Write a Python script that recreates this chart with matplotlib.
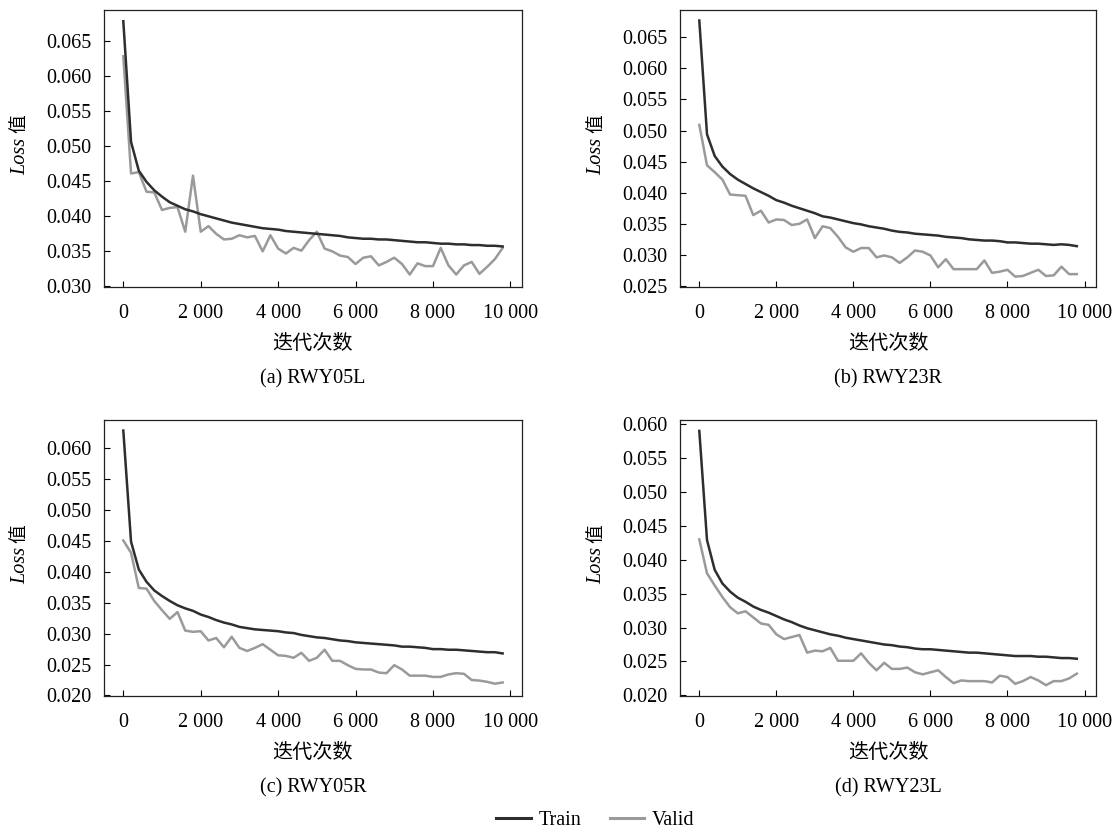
import matplotlib
matplotlib.use("Agg")
import matplotlib.pyplot as plt
from matplotlib.ticker import FuncFormatter
from matplotlib.lines import Line2D
from matplotlib.transforms import offset_copy

plt.rcParams['font.family'] = ['Liberation Serif', 'Noto Sans CJK SC']

# iterations (every 200 steps)
iters = [i * 200 for i in range(50)]

train_a = [0.0678, 0.0506, 0.0465, 0.0449, 0.0437, 0.0428, 0.0420, 0.0415, 0.0410, 0.0407,
           0.0403, 0.0400, 0.0397, 0.0394, 0.0391, 0.0389, 0.0387, 0.0385, 0.0383, 0.0382,
           0.0381, 0.0379, 0.0378, 0.0377, 0.0376, 0.0375, 0.0374, 0.0373, 0.0372, 0.0370,
           0.0369, 0.0368, 0.0368, 0.0367, 0.0367, 0.0366, 0.0365, 0.0364, 0.0363, 0.0363,
           0.0362, 0.0361, 0.0361, 0.0360, 0.0360, 0.0359, 0.0359, 0.0358, 0.0358, 0.0357]
valid_a = [0.0628, 0.0461, 0.0463, 0.0435, 0.0434, 0.0409, 0.0412, 0.0413, 0.0378, 0.0458,
           0.0378, 0.0386, 0.0375, 0.0367, 0.0368, 0.0373, 0.0370, 0.0372, 0.0350, 0.0373,
           0.0354, 0.0347, 0.0355, 0.0351, 0.0366, 0.0378, 0.0354, 0.0350, 0.0344, 0.0342,
           0.0332, 0.0341, 0.0343, 0.0330, 0.0335, 0.0341, 0.0332, 0.0317, 0.0333, 0.0329,
           0.0329, 0.0355, 0.0330, 0.0317, 0.0330, 0.0335, 0.0318, 0.0328, 0.0339, 0.0355]

train_b = [0.0677, 0.0494, 0.0459, 0.0442, 0.0430, 0.0421, 0.0414, 0.0407, 0.0401, 0.0395,
           0.0388, 0.0384, 0.0379, 0.0375, 0.0371, 0.0367, 0.0362, 0.0360, 0.0357, 0.0354,
           0.0351, 0.0349, 0.0346, 0.0344, 0.0342, 0.0339, 0.0337, 0.0336, 0.0334, 0.0333,
           0.0332, 0.0331, 0.0329, 0.0328, 0.0327, 0.0325, 0.0324, 0.0323, 0.0323, 0.0322,
           0.0320, 0.0320, 0.0319, 0.0318, 0.0318, 0.0317, 0.0316, 0.0317, 0.0316, 0.0314]
valid_b = [0.0509, 0.0444, 0.0433, 0.0421, 0.0397, 0.0396, 0.0395, 0.0364, 0.0371, 0.0352,
           0.0357, 0.0356, 0.0348, 0.0350, 0.0357, 0.0327, 0.0346, 0.0343, 0.0329, 0.0312,
           0.0305, 0.0311, 0.0311, 0.0296, 0.0299, 0.0296, 0.0287, 0.0296, 0.0307, 0.0305,
           0.0299, 0.0280, 0.0293, 0.0277, 0.0277, 0.0277, 0.0277, 0.0291, 0.0271, 0.0273,
           0.0276, 0.0265, 0.0266, 0.0271, 0.0276, 0.0266, 0.0267, 0.0281, 0.0269, 0.0269]

train_c = [0.0629, 0.0449, 0.0404, 0.0384, 0.0370, 0.0361, 0.0353, 0.0346, 0.0341, 0.0337,
           0.0331, 0.0327, 0.0322, 0.0318, 0.0315, 0.0311, 0.0309, 0.0307, 0.0306, 0.0305,
           0.0304, 0.0302, 0.0301, 0.0298, 0.0296, 0.0294, 0.0293, 0.0291, 0.0289, 0.0288,
           0.0286, 0.0285, 0.0284, 0.0283, 0.0282, 0.0281, 0.0279, 0.0279, 0.0278, 0.0277,
           0.0275, 0.0275, 0.0274, 0.0274, 0.0273, 0.0272, 0.0271, 0.0270, 0.0270, 0.0268]
valid_c = [0.0451, 0.0431, 0.0374, 0.0373, 0.0353, 0.0338, 0.0324, 0.0335, 0.0305, 0.0303,
           0.0304, 0.0289, 0.0293, 0.0278, 0.0295, 0.0277, 0.0272, 0.0277, 0.0283, 0.0274,
           0.0265, 0.0264, 0.0261, 0.0269, 0.0256, 0.0261, 0.0274, 0.0256, 0.0256, 0.0249,
           0.0243, 0.0242, 0.0242, 0.0237, 0.0236, 0.0249, 0.0242, 0.0232, 0.0232, 0.0232,
           0.0230, 0.0230, 0.0234, 0.0236, 0.0235, 0.0225, 0.0224, 0.0222, 0.0219, 0.0221]

train_d = [0.0590, 0.0429, 0.0385, 0.0365, 0.0353, 0.0344, 0.0338, 0.0331, 0.0326, 0.0322,
           0.0317, 0.0312, 0.0308, 0.0303, 0.0299, 0.0296, 0.0293, 0.0290, 0.0288, 0.0285,
           0.0283, 0.0281, 0.0279, 0.0277, 0.0275, 0.0274, 0.0272, 0.0271, 0.0269, 0.0268,
           0.0268, 0.0267, 0.0266, 0.0265, 0.0264, 0.0263, 0.0263, 0.0262, 0.0261, 0.0260,
           0.0259, 0.0258, 0.0258, 0.0258, 0.0257, 0.0257, 0.0256, 0.0255, 0.0255, 0.0254]
valid_d = [0.0430, 0.0380, 0.0362, 0.0345, 0.0330, 0.0321, 0.0324, 0.0315, 0.0306, 0.0304,
           0.0290, 0.0283, 0.0286, 0.0289, 0.0263, 0.0266, 0.0265, 0.0270, 0.0251, 0.0251,
           0.0251, 0.0262, 0.0248, 0.0237, 0.0248, 0.0239, 0.0239, 0.0241, 0.0234, 0.0231,
           0.0234, 0.0237, 0.0227, 0.0218, 0.0222, 0.0221, 0.0221, 0.0221, 0.0219, 0.0229,
           0.0227, 0.0217, 0.0221, 0.0227, 0.0222, 0.0215, 0.0221, 0.0221, 0.0225, 0.0232]

captions = ["(a) RWY05L", "(b) RWY23R", "(c) RWY05R", "(d) RWY23L"]
y_ticks = [
    [0.030, 0.035, 0.040, 0.045, 0.050, 0.055, 0.060, 0.065],
    [0.025, 0.030, 0.035, 0.040, 0.045, 0.050, 0.055, 0.060, 0.065],
    [0.020, 0.025, 0.030, 0.035, 0.040, 0.045, 0.050, 0.055, 0.060],
    [0.020, 0.025, 0.030, 0.035, 0.040, 0.045, 0.050, 0.055, 0.060],
]
y_lims = [(0.0299, 0.0694), (0.0248, 0.0694), (0.0199, 0.0646), (0.0199, 0.0606)]
x_ticks = [0, 2000, 4000, 6000, 8000, 10000]

train_all = [train_a, train_b, train_c, train_d]
valid_all = [valid_a, valid_b, valid_c, valid_d]

TRAIN_COLOR = "#2e2e2e"
VALID_COLOR = "#9a9a9a"
FS = 14.5

fig = plt.figure(figsize=(11.13, 8.30), dpi=100)

# axes boxes in figure fraction: left, bottom, width, height
boxes = [
    [0.0934, 0.654, 0.3756, 0.334],
    [0.611, 0.654, 0.3738, 0.334],
    [0.0934, 0.1614, 0.3756, 0.3325],
    [0.611, 0.1614, 0.3738, 0.3325],
]

xfmt = FuncFormatter(lambda v, p: f"{int(v):,}".replace(",", " "))
yfmt = FuncFormatter(lambda v, p: f"{v:.3f}")

for i in range(4):
    ax = fig.add_axes(boxes[i])
    ax.plot(iters, train_all[i], color=TRAIN_COLOR, lw=1.8, zorder=3)
    ax.plot(iters, valid_all[i], color=VALID_COLOR, lw=1.8, zorder=2)
    ax.set_xlim(-500, 10300)
    ax.set_ylim(*y_lims[i])
    ax.set_xticks(x_ticks)
    ax.set_yticks(y_ticks[i])
    ax.xaxis.set_major_formatter(xfmt)
    ax.yaxis.set_major_formatter(yfmt)
    ax.tick_params(direction="in", length=4, labelsize=FS, width=0.8)
    ax.tick_params(axis="x", pad=12)
    ax.tick_params(axis="y", pad=9)
    for s in ax.spines.values():
        s.set_linewidth(0.9)
        s.set_color("#222222")

    b = boxes[i]
    cx = b[0] + b[2] / 2
    fig.text(cx, b[1] - 57 / 830, "迭代次数", ha="center", va="center", fontsize=FS)
    fig.text(cx, b[1] - 92 / 830, captions[i], ha="center", va="center", fontsize=FS)

    # y label: italic "Loss" followed by 值, rotated
    lx = -0.2
    t1 = offset_copy(ax.transAxes, fig=fig, x=0, y=8, units="points")
    t2 = offset_copy(ax.transAxes, fig=fig, x=0, y=11, units="points")
    ax.text(lx, 0.5, "Loss", transform=t1, rotation=90, rotation_mode="anchor",
            ha="right", va="center", fontsize=FS, style="italic")
    ax.text(lx, 0.5, "值", transform=t2, rotation=90, rotation_mode="anchor",
            ha="left", va="center", fontsize=FS - 1)

handles = [Line2D([0], [0], color=TRAIN_COLOR, lw=2.2),
           Line2D([0], [0], color=VALID_COLOR, lw=2.2)]
fig.legend(handles, ["Train", "Valid"], loc="center", bbox_to_anchor=(0.535, 0.012),
           ncol=2, frameon=False, fontsize=FS, handlelength=1.7, columnspacing=1.4,
           handletextpad=0.4)

fig.savefig("out.png", dpi=100)
